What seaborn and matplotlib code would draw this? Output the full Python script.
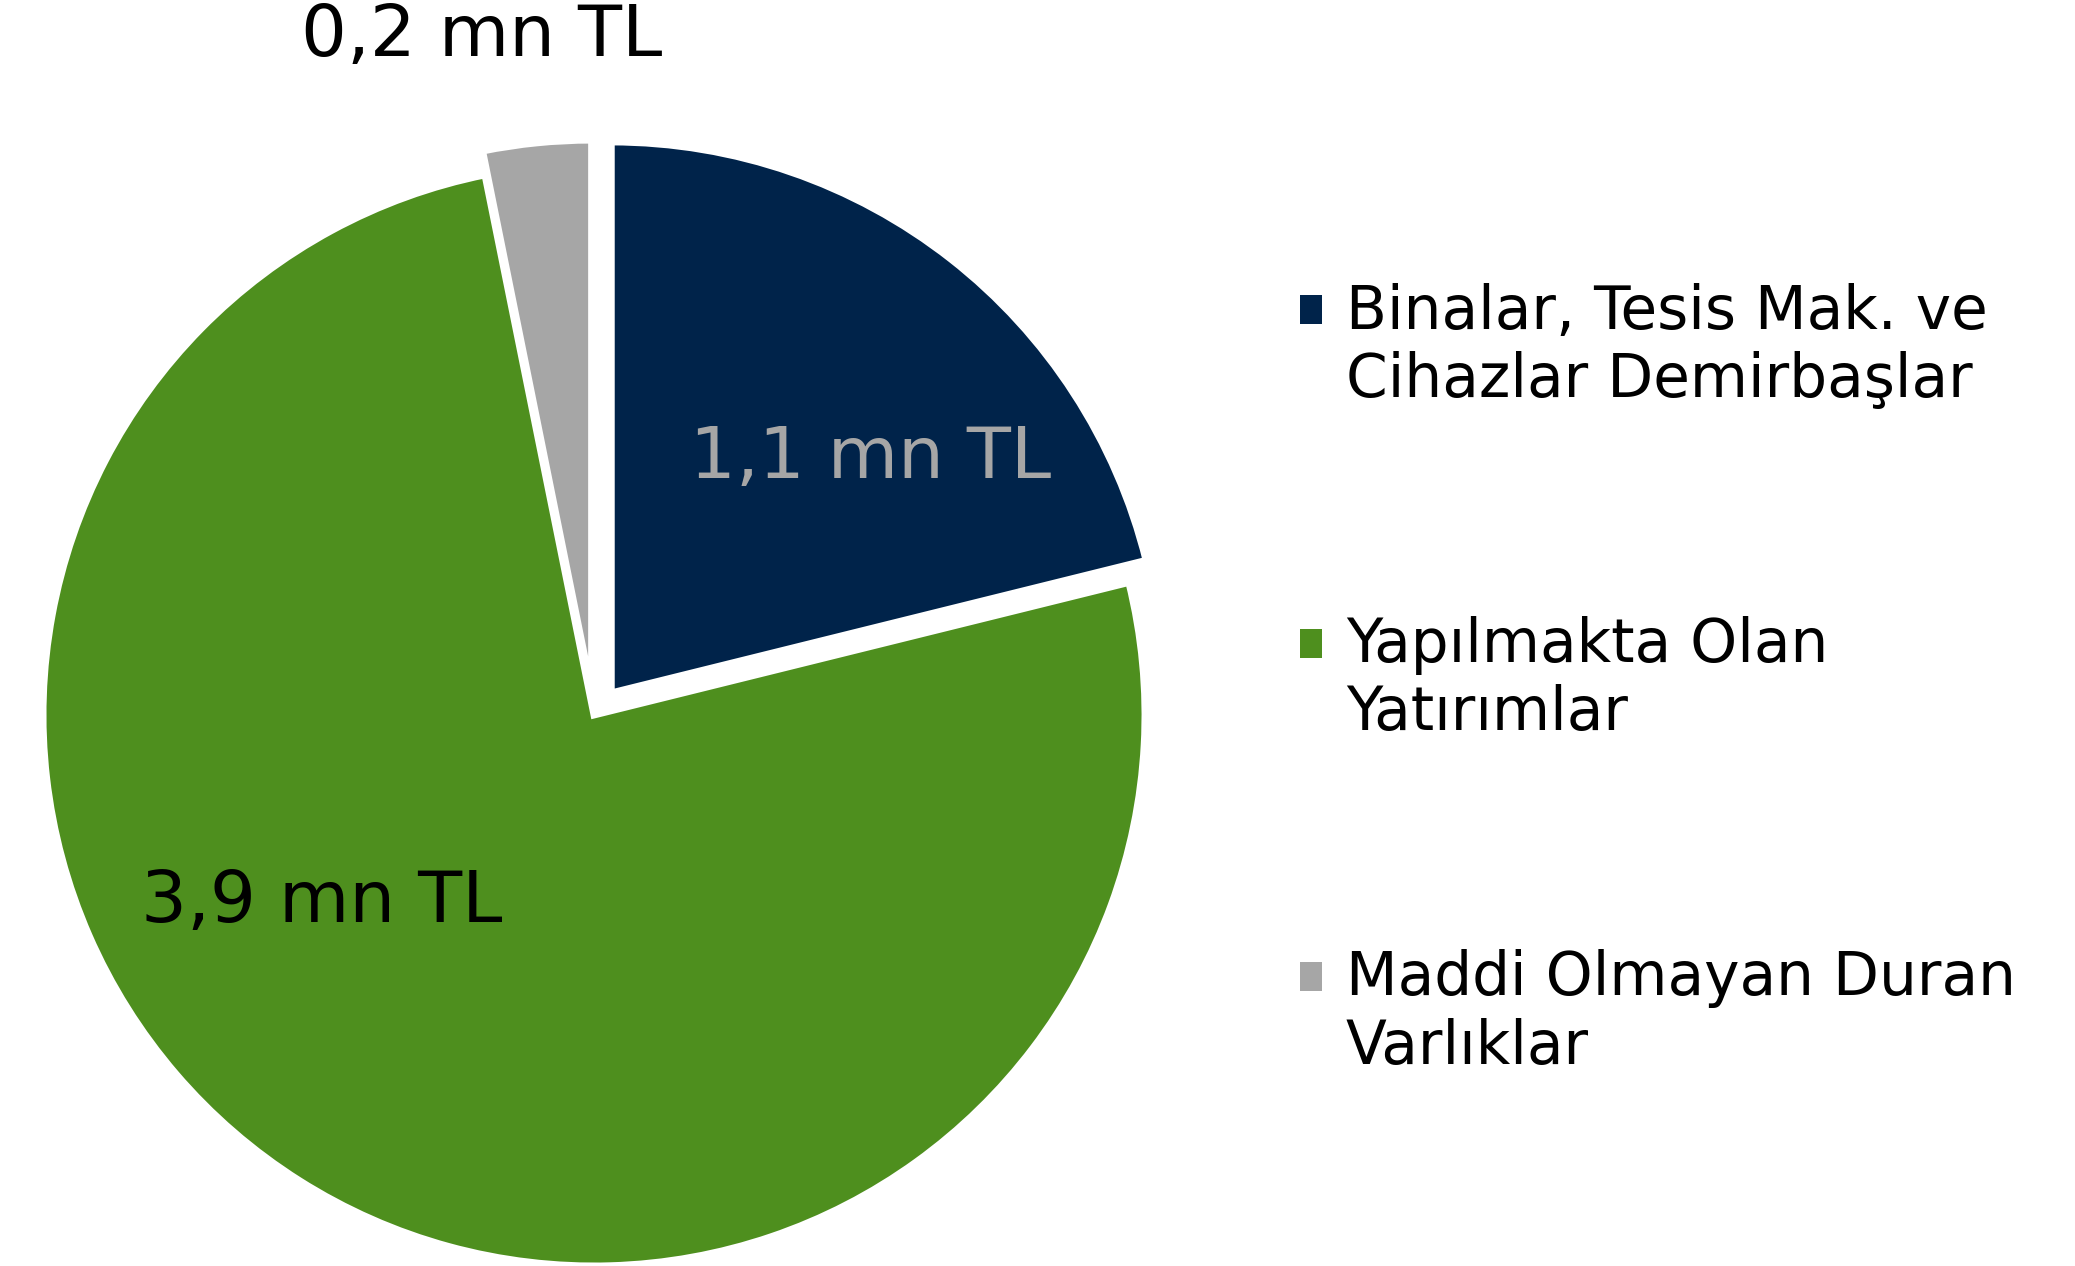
import numpy as np
import matplotlib
matplotlib.use("Agg")
import matplotlib.pyplot as plt
import matplotlib.patches as mpatches
from matplotlib.legend_handler import HandlerPatch
import seaborn as sns

# data
categories = ["Binalar, Tesis Mak. ve\nCihazlar Demirbaşlar",
              "Yapılmakta Olan\nYatırımlar",
              "Maddi Olmayan Duran\nVarlıklar"]
values = [1.1, 3.94, 0.165]          # mn TL
colors = ["#00234A", "#4E8F1E", "#A6A6A6"]
label_colors = ["#A6A6A6", "black", "black"]

sns.set_theme(style="white")
plt.rcParams['font.family'] = ['DejaVu Sans']
plt.rcParams['text.color'] = 'black'

W, H = 2075, 1266
fig = plt.figure(figsize=(W / 100, H / 100), dpi=100)
ax = fig.add_axes([0, 0, 1, 1])

cx, cy, r = 594, H - 715, 551
wedges, _ = ax.pie(values, colors=colors, startangle=90, counterclock=False,
                   explode=[28, 0, 24], center=(cx, cy), radius=r,
                   wedgeprops=dict(edgecolor='white', linewidth=5))
ax.set_xlim(0, W)
ax.set_ylim(0, H)
ax.set_aspect('equal')
ax.axis('off')

# value labels
texts = [f"{v:.1f} mn TL".replace('.', ',') for v in values]
label_pos = [(871, H - 459), (322, H - 902), (482, H - 37)]
for t, (x, y), c in zip(texts, label_pos, label_colors):
    ax.text(x, y, t, ha='center', va='center', fontsize=52, color=c)


# square marker next to the first line of each two-line label
def top_square(legend, orig_handle, xdescent, ydescent, width, height, fontsize):
    return mpatches.Rectangle((-xdescent, -ydescent + 0.64 * fontsize), width, height)


leg = fig.legend(wedges, categories, loc='upper left',
                 bbox_to_anchor=(1300 / W, 1 - 283 / H),
                 frameon=False, fontsize=43, borderpad=0, borderaxespad=0,
                 handlelength=0.37, handleheight=0.37, handletextpad=0.4,
                 labelspacing=3.45,
                 handler_map={mpatches.Wedge: HandlerPatch(patch_func=top_square)})
for h in leg.legend_handles:
    h.set_linewidth(0)

fig.savefig("out.png", dpi=100)
